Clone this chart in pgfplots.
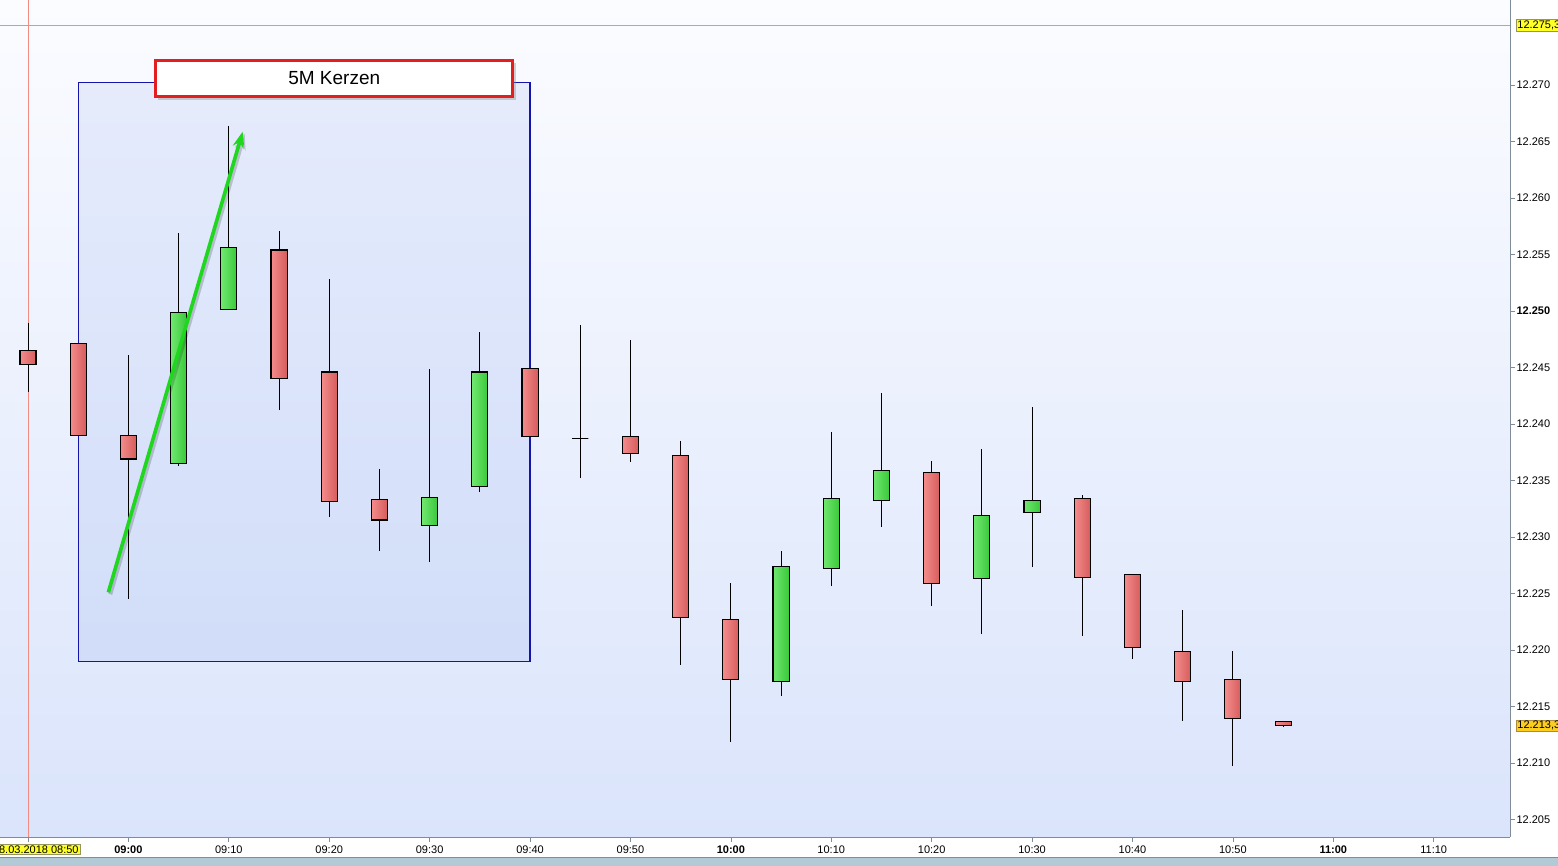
\documentclass[border=0pt]{standalone}
\usepackage{pgfplots}
\pgfplotsset{compat=1.18}
\usepgfplotslibrary{statistics}
\usetikzlibrary{arrows.meta,shadows}
\usepackage{fontspec}
\setmainfont{Liberation Sans}

\definecolor{bgTop}{RGB}{251,252,255}
\definecolor{bgBot}{RGB}{218,228,251}
\definecolor{rL}{RGB}{244,140,140}
\definecolor{rR}{RGB}{214,92,92}
\definecolor{gL}{RGB}{112,232,112}
\definecolor{gR}{RGB}{58,200,58}
\definecolor{axisgray}{RGB}{128,140,152}
\definecolor{redline}{RGB}{240,140,130}
\definecolor{rectblue}{RGB}{100,140,230}
\definecolor{rectborder}{RGB}{20,20,170}
\definecolor{arrowgreen}{RGB}{30,215,30}
\definecolor{labelred}{RGB}{228,30,30}
\definecolor{strip}{RGB}{178,202,214}
\definecolor{yel}{RGB}{255,255,40}
\definecolor{gold}{RGB}{250,205,30}

\pgfplotsset{
  candle/.style={
    boxplot/draw direction=y,
    boxplot/box extend=1.6,
    boxplot/whisker extend=0,
    boxplot/every whisker/.style={black, line width=0.9pt},
    boxplot/every median/.style={draw=none},
  },
  bear/.style={candle, boxplot/every box/.style={draw=black, line width=1.1pt, left color=rL, right color=rR}},
  bull/.style={candle, boxplot/every box/.style={draw=black, line width=1.1pt, left color=gL, right color=gR}},
}

\begin{document}
\begin{tikzpicture}
\path[use as bounding box, fill=white] (0pt,0pt) rectangle (1558pt,866pt);
\fill[strip] (0pt,0pt) rectangle (1558pt,9pt);
\draw[axisgray, line width=0.8pt] (0pt,9pt) -- (1558pt,9pt);
\begin{axis}[
  at={(0pt,29pt)}, anchor=south west,
  scale only axis, width=1510pt, height=837pt,
  xmin=-2.79, xmax=147.6,
  ymin=12203.45, ymax=12277.52,
  axis x line*=bottom, axis y line*=right,
  axis line style={draw=axisgray, line width=0.8pt},
  axis background/.style={top color=bgTop, bottom color=bgBot},
  clip=false,
  tick align=outside, major tick length=5pt,
  tick style={axisgray, line width=0.7pt},
  xtick={0,10,20,30,40,50,60,70,80,90,100,110,120,130,140},
  xticklabels={{},\textbf{09:00},09:10,09:20,09:30,09:40,09:50,\textbf{10:00},10:10,10:20,10:30,10:40,10:50,\textbf{11:00},11:10},
  ytick={12205,12210,12215,12220,12225,12230,12235,12240,12245,12250,12255,12260,12265,12270},
  yticklabels={12.205,12.210,12.215,12.220,12.225,12.230,12.235,12.240,12.245,\textbf{12.250},12.255,12.260,12.265,12.270},
  /pgf/number format/assume math mode=true,
  ticklabel style={font=\fontsize{11}{13}\selectfont, text=black},
  xticklabel style={yshift=0pt},
  yticklabel style={xshift=-2pt},
]
% highlighted region
\fill[rectblue, fill opacity=0.12] (axis cs:5,12219.0) rectangle (axis cs:50,12270.2);
\draw[rectborder, line width=1.1pt] (axis cs:5,12219.0) rectangle (axis cs:50,12270.2);
% crosshair lines
\draw[redline, line width=0.8pt] (axis cs:-2.79,12275.3) -- (axis cs:147.6,12275.3);
\draw[redline, line width=0.8pt] (axis cs:0,12203.45) -- (axis cs:0,12277.52);

% candles: draw position = minutes after 08:50
% whiskers = low/high, box = open/close
\addplot[bear, boxplot prepared={draw position=0,   lower whisker=12242.8, lower quartile=12245.3, median=12245.3, upper quartile=12246.5, upper whisker=12248.9}] coordinates {};
\addplot[bear, boxplot prepared={draw position=5,   lower whisker=12239.0, lower quartile=12239.0, median=12239.0, upper quartile=12247.1, upper whisker=12247.1}] coordinates {};
\addplot[bear, boxplot prepared={draw position=10,  lower whisker=12224.5, lower quartile=12236.9, median=12236.9, upper quartile=12239.0, upper whisker=12246.1}] coordinates {};
\addplot[bull, boxplot prepared={draw position=15,  lower whisker=12236.3, lower quartile=12236.5, median=12236.5, upper quartile=12249.9, upper whisker=12256.9}] coordinates {};
\addplot[bull, boxplot prepared={draw position=20,  lower whisker=12250.1, lower quartile=12250.1, median=12250.1, upper quartile=12255.6, upper whisker=12266.4}] coordinates {};
\addplot[bear, boxplot prepared={draw position=25,  lower whisker=12241.2, lower quartile=12244.0, median=12244.0, upper quartile=12255.4, upper whisker=12257.1}] coordinates {};
\addplot[bear, boxplot prepared={draw position=30,  lower whisker=12231.8, lower quartile=12233.1, median=12233.1, upper quartile=12244.6, upper whisker=12252.8}] coordinates {};
\addplot[bear, boxplot prepared={draw position=35,  lower whisker=12228.8, lower quartile=12231.5, median=12231.5, upper quartile=12233.3, upper whisker=12236.0}] coordinates {};
\addplot[bull, boxplot prepared={draw position=40,  lower whisker=12227.8, lower quartile=12231.0, median=12231.0, upper quartile=12233.5, upper whisker=12244.9}] coordinates {};
\addplot[bull, boxplot prepared={draw position=45,  lower whisker=12234.0, lower quartile=12234.5, median=12234.5, upper quartile=12244.6, upper whisker=12248.1}] coordinates {};
\addplot[bear, boxplot prepared={draw position=50,  lower whisker=12238.9, lower quartile=12238.9, median=12238.9, upper quartile=12244.9, upper whisker=12244.9}] coordinates {};
\addplot[bear, boxplot prepared={draw position=55,  lower whisker=12235.2, lower quartile=12238.7, median=12238.7, upper quartile=12238.7, upper whisker=12248.8}] coordinates {};
\addplot[bear, boxplot prepared={draw position=60,  lower whisker=12236.6, lower quartile=12237.4, median=12237.4, upper quartile=12238.9, upper whisker=12247.4}] coordinates {};
\addplot[bear, boxplot prepared={draw position=65,  lower whisker=12218.7, lower quartile=12222.9, median=12222.9, upper quartile=12237.2, upper whisker=12238.5}] coordinates {};
\addplot[bear, boxplot prepared={draw position=70,  lower whisker=12211.9, lower quartile=12217.4, median=12217.4, upper quartile=12222.7, upper whisker=12225.9}] coordinates {};
\addplot[bull, boxplot prepared={draw position=75,  lower whisker=12215.9, lower quartile=12217.2, median=12217.2, upper quartile=12227.4, upper whisker=12228.8}] coordinates {};
\addplot[bull, boxplot prepared={draw position=80,  lower whisker=12225.7, lower quartile=12227.2, median=12227.2, upper quartile=12233.4, upper whisker=12239.3}] coordinates {};
\addplot[bull, boxplot prepared={draw position=85,  lower whisker=12230.9, lower quartile=12233.2, median=12233.2, upper quartile=12235.9, upper whisker=12242.7}] coordinates {};
\addplot[bear, boxplot prepared={draw position=90,  lower whisker=12223.9, lower quartile=12225.9, median=12225.9, upper quartile=12235.7, upper whisker=12236.7}] coordinates {};
\addplot[bull, boxplot prepared={draw position=95,  lower whisker=12221.4, lower quartile=12226.3, median=12226.3, upper quartile=12231.9, upper whisker=12237.8}] coordinates {};
\addplot[bull, boxplot prepared={draw position=100, lower whisker=12227.3, lower quartile=12232.2, median=12232.2, upper quartile=12233.2, upper whisker=12241.5}] coordinates {};
\addplot[bear, boxplot prepared={draw position=105, lower whisker=12221.2, lower quartile=12226.4, median=12226.4, upper quartile=12233.4, upper whisker=12233.7}] coordinates {};
\addplot[bear, boxplot prepared={draw position=110, lower whisker=12219.2, lower quartile=12220.2, median=12220.2, upper quartile=12226.7, upper whisker=12226.7}] coordinates {};
\addplot[bear, boxplot prepared={draw position=115, lower whisker=12213.7, lower quartile=12217.2, median=12217.2, upper quartile=12219.9, upper whisker=12223.5}] coordinates {};
\addplot[bear, boxplot prepared={draw position=120, lower whisker=12209.7, lower quartile=12213.9, median=12213.9, upper quartile=12217.4, upper whisker=12219.9}] coordinates {};
\addplot[bear, boxplot prepared={draw position=125, lower whisker=12213.2, lower quartile=12213.3, median=12213.3, upper quartile=12213.7, upper whisker=12213.7}] coordinates {};

% green arrow with soft shadow
\draw[black, opacity=0.18, line width=4pt, -{Stealth[length=16pt,width=11pt]}]
  ([xshift=2pt,yshift=-2pt]axis cs:8.0,12225.1) -- ([xshift=2pt,yshift=-2pt]axis cs:21.38,12265.87);
\draw[arrowgreen, line width=3.6pt, -{Stealth[length=16pt,width=11pt]}]
  (axis cs:8.0,12225.1) -- (axis cs:21.38,12265.87);

% title box
\draw[labelred, line width=3pt, fill=white, drop shadow={opacity=0.35, shadow xshift=3pt, shadow yshift=-3pt}]
  (axis cs:12.65,12268.94) rectangle (axis cs:48.3,12272.2);
\node[font=\fontsize{19}{22}\selectfont] at (axis cs:30.5,12270.57) {5M Kerzen};

% price labels on the right
\node[anchor=west, fill=yel, draw={rgb,255:red,150;green,150;blue,90}, inner sep=1.2pt, font=\fontsize{11}{13}\selectfont]
  at ([xshift=6pt]axis cs:147.6,12275.3) {12.275,3};
\node[anchor=west, fill=gold, draw={rgb,255:red,170;green,140;blue,60}, inner sep=1.2pt, font=\fontsize{11}{13}\selectfont]
  at ([xshift=6pt]axis cs:147.6,12213.3) {12.213,3};
% date label
\node[anchor=east, fill=yel, draw={rgb,255:red,150;green,150;blue,90}, inner sep=1.2pt, font=\fontsize{11}{13}\selectfont]
  at ([yshift=-12.5pt]axis cs:5.18,12203.45) {08.03.2018 08:50};
\end{axis}
\end{tikzpicture}
\end{document}
